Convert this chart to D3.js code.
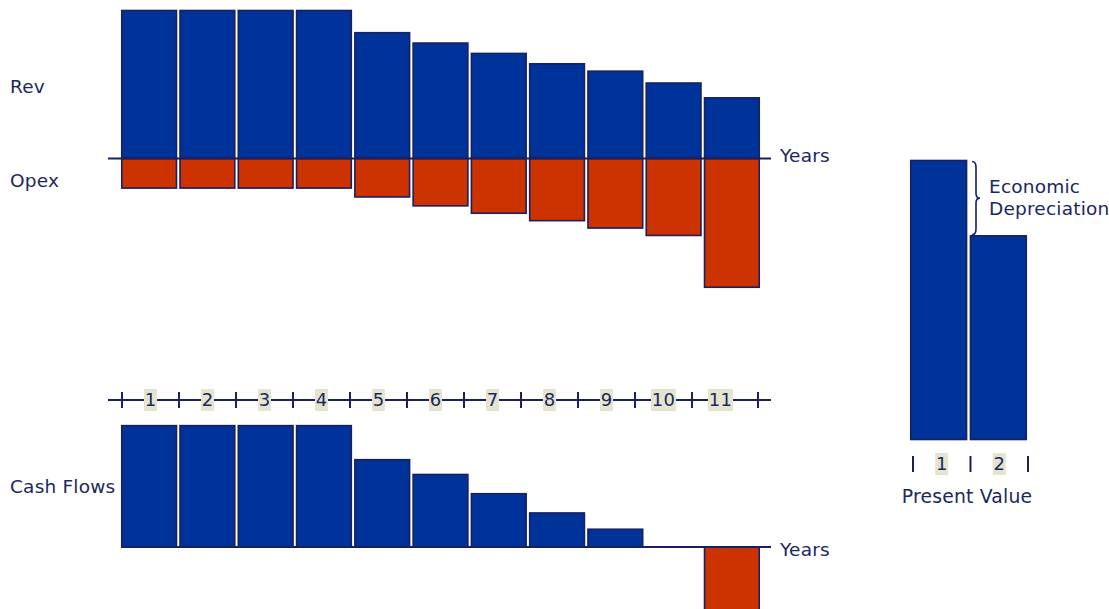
<!DOCTYPE html>
<html>
<head>
<meta charset="utf-8">
<script src="https://cdnjs.cloudflare.com/ajax/libs/d3/7.8.5/d3.min.js"></script>
<style>
  body { margin: 0; background: #fff; }
  svg text { font-family: "DejaVu Sans", Verdana, sans-serif; fill: #1a2760; letter-spacing: 0.2px; }
</style>
</head>
<body>
<svg id="mainSvg" width="1109" height="609"></svg>
<script>
// values in arbitrary units (Year 1 revenue = 100)
var years = ["1","2","3","4","5","6","7","8","9","10","11"];
var revenue = [100, 100, 100, 100, 85, 78, 71, 64, 59, 51, 41];
var opex = [20, 20, 20, 20, 26, 32, 37, 42, 47, 52, 87];
var cashFlows = [82, 82, 82, 82, 59, 49, 36, 23, 12, 0, -46];
var pvLabels = ["1","2"];
var presentValues = [100, 73];

var blue = "#003399";
var orange = "#cc3300";
var navy = "#182060";

var svg = d3.select("#mainSvg");

// bars scale shared by both year charts
var x = d3.scaleBand().domain(years).range([121, 760]).paddingInner(0.035);
var y = d3.scaleLinear().domain([0, 100]).range([0, 148]); // units -> pixels

function drawBars(data, baseY, neg, cls){
  svg.selectAll("." + cls)
    .data(data)
    .enter().append("rect")
      .attr("class", cls)
      .attr("x", function(d, i){ return x(years[i]) + 0.75; })
      .attr("width", x.bandwidth() - 1.5)
      .attr("y", function(d){ return neg ? baseY : (d >= 0 ? baseY - y(d) : baseY); })
      .attr("height", function(d){ return y(Math.abs(d)); })
      .attr("fill", function(d){ return (neg || d < 0) ? orange : blue; })
      .attr("stroke", navy)
      .attr("stroke-width", 1.6)
      .style("display", function(d){ return d === 0 ? "none" : null; });
}

// top chart: revenue and opex
var topBase = 158.5;
drawBars(revenue, topBase, false, "rev");
drawBars(opex, topBase, true, "opex");
svg.append("line")
  .attr("x1", 108).attr("x2", 771)
  .attr("y1", topBase).attr("y2", topBase)
  .attr("stroke", navy).attr("stroke-width", 2);

// bottom chart: cash flows
var cfBase = 547;
drawBars(cashFlows, cfBase, false, "cf");
svg.append("line")
  .attr("x1", 121).attr("x2", 771)
  .attr("y1", cfBase).attr("y2", cfBase)
  .attr("stroke", navy).attr("stroke-width", 2);

// year axis in the middle
var axisY = 400;
var xa = d3.scaleBand().domain(years).range([122, 749]);
svg.append("line")
  .attr("x1", 108).attr("x2", 771)
  .attr("y1", axisY).attr("y2", axisY)
  .attr("stroke", navy).attr("stroke-width", 2);

var tickXs = years.map(function(d){ return xa(d); }).concat([758]);
svg.selectAll(".ytick")
  .data(tickXs)
  .enter().append("line")
    .attr("class", "ytick")
    .attr("x1", function(d){ return d; }).attr("x2", function(d){ return d; })
    .attr("y1", axisY - 8).attr("y2", axisY + 8)
    .attr("stroke", navy).attr("stroke-width", 2);

function axisLabels(labels, scale, cy, cls){
  var g = svg.selectAll("." + cls)
    .data(labels)
    .enter().append("g")
      .attr("class", cls)
      .attr("transform", function(d){ return "translate(" + (scale(d) + scale.bandwidth() / 2) + "," + cy + ")"; });
  g.append("rect")
    .attr("x", function(d){ return -d.length * 6 - 0.5; })
    .attr("width", function(d){ return d.length * 12 + 1; })
    .attr("y", -11).attr("height", 22)
    .attr("fill", "#e5e5cf");
  g.append("text")
    .attr("text-anchor", "middle")
    .attr("dy", "0.36em")
    .attr("font-size", 18)
    .text(function(d){ return d; });
}
axisLabels(years, xa, axisY, "ylab");

// present value chart
var xp = d3.scaleBand().domain(pvLabels).range([910, 1027]).paddingInner(0.04);
var pvBase = 439.5;
var yp = d3.scaleLinear().domain([0, 100]).range([0, 279]);
svg.selectAll(".pv")
  .data(presentValues)
  .enter().append("rect")
    .attr("class", "pv")
    .attr("x", function(d, i){ return xp(pvLabels[i]) + 0.75; })
    .attr("width", xp.bandwidth() - 1.5)
    .attr("y", function(d){ return pvBase - yp(d); })
    .attr("height", function(d){ return yp(d); })
    .attr("fill", blue)
    .attr("stroke", navy)
    .attr("stroke-width", 1.6);

var xpa = d3.scaleBand().domain(pvLabels).range([913, 1028]);
var pvTicks = pvLabels.map(function(d){ return xpa(d); }).concat([1028]);
svg.selectAll(".ptick")
  .data(pvTicks)
  .enter().append("line")
    .attr("class", "ptick")
    .attr("x1", function(d){ return d; }).attr("x2", function(d){ return d; })
    .attr("y1", 456).attr("y2", 472)
    .attr("stroke", navy).attr("stroke-width", 2);
axisLabels(pvLabels, xpa, 464, "plab");

svg.append("text")
  .attr("x", 967).attr("y", 503)
  .attr("text-anchor", "middle")
  .attr("font-size", 18.8)
  .text("Present Value");

// brace for economic depreciation
var bTop = pvBase - yp(presentValues[0]) + 1;
var bBot = pvBase - yp(presentValues[1]) - 1;
var bMid = (bTop + bBot) / 2;
var bx = 972, bw = 8;
svg.append("path")
  .attr("d", "M" + bx + "," + bTop +
    " Q" + (bx + bw / 2) + "," + bTop + " " + (bx + bw / 2) + "," + (bTop + 6) +
    " L" + (bx + bw / 2) + "," + (bMid - 5) +
    " Q" + (bx + bw / 2) + "," + bMid + " " + (bx + bw) + "," + bMid +
    " Q" + (bx + bw / 2) + "," + bMid + " " + (bx + bw / 2) + "," + (bMid + 5) +
    " L" + (bx + bw / 2) + "," + (bBot - 6) +
    " Q" + (bx + bw / 2) + "," + bBot + " " + bx + "," + bBot)
  .attr("fill", "none")
  .attr("stroke", navy)
  .attr("stroke-width", 1.6);

svg.append("text").attr("x", 989).attr("y", 193).attr("font-size", 18.5).text("Economic");
svg.append("text").attr("x", 989).attr("y", 215).attr("font-size", 18.5).text("Depreciation");

// side and axis titles
svg.append("text").attr("x", 10).attr("y", 93).attr("font-size", 18.5).text("Rev");
svg.append("text").attr("x", 10).attr("y", 187).attr("font-size", 18.5).text("Opex");
svg.append("text").attr("x", 10).attr("y", 493).attr("font-size", 18.5).text("Cash Flows");
svg.append("text").attr("x", 780).attr("y", 162).attr("font-size", 18.5).text("Years");
svg.append("text").attr("x", 780).attr("y", 556).attr("font-size", 18.5).text("Years");
</script>
</body>
</html>
